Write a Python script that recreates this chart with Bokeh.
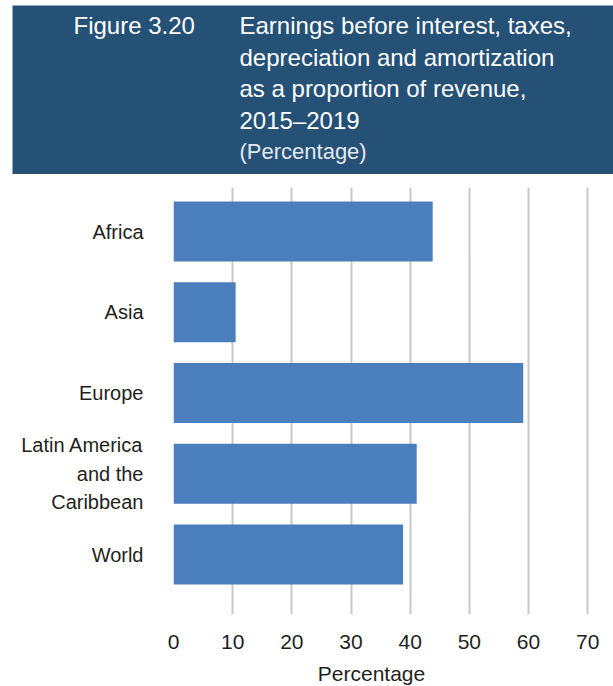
from bokeh.plotting import figure
from bokeh.models import Range1d, Label, BoxAnnotation, FixedTicker, ColumnDataSource
from bokeh.layouts import column
from bokeh.embed import file_html
from bokeh.resources import INLINE

# ---- data ----
categories = ["Africa", "Asia", "Europe", "Latin America\nand the\nCaribbean", "World"]
values = [43.8, 10.5, 59.1, 41.1, 38.8]
x_ticks = [0, 10, 20, 30, 40, 50, 60, 70]
fig_label = "Figure 3.20"
title_lines = ["Earnings before interest, taxes,",
               "depreciation and amortization",
               "as a proportion of revenue,",
               "2015\u20132019"]
subtitle = "(Percentage)"
x_label = "Percentage"

SANS = "Liberation Sans"
HEADER_BLUE = "#255177"
BAR_BLUE = "#4a7ebd"
GRID = "#c8c8c8"
TEXT = "#231f20"

W = 613


def blank(h):
    f = figure(width=W, height=h, x_range=Range1d(0, W), y_range=Range1d(0, h),
               output_backend="svg", toolbar_location=None, min_border=0, title=None,
               x_axis_location=None, y_axis_location=None)
    f.frame_align = False
    f.grid.visible = False
    f.outline_line_color = None
    return f


# ---- header (page y 0..174) ----
HH = 174
ROW1 = HH - 25
STEP = 31.5
header = blank(HH)
header.add_layout(BoxAnnotation(left=12, right=W, bottom=0, top=HH - 5,
                                fill_color=HEADER_BLUE, fill_alpha=1, line_color=None))
header.add_layout(Label(x=73, y=ROW1, text=fig_label, text_font=SANS, text_font_size="24px",
                        text_color="white", text_baseline="alphabetic"))
for i, line in enumerate(title_lines):
    header.add_layout(Label(x=239, y=ROW1 - STEP * i, text=line, text_font=SANS,
                            text_font_size="24px", text_color="white",
                            text_baseline="alphabetic"))
header.add_layout(Label(x=239, y=ROW1 - STEP * 4, text=subtitle, text_font=SANS,
                        text_font_size="22px", text_color="#e4e8ee",
                        text_baseline="alphabetic"))

# ---- chart (page y 174..660) ----
n = len(categories)
ys = [n - 1 - i for i in range(n)]
src = ColumnDataSource(dict(y=ys, v=values, cat=categories))

CH = 486
p = figure(width=W, height=CH, x_range=Range1d(0, 70.3), y_range=Range1d(-0.743, 4.545),
           output_backend="svg", toolbar_location=None, title=None,
           min_border_left=173, min_border_right=24, min_border_top=13, min_border_bottom=46)
p.frame_align = False
p.outline_line_color = None
p.hbar(y="y", right="v", left=0, height=0.743, source=src, fill_color=BAR_BLUE, line_color=None)

p.ygrid.visible = False
p.xgrid.ticker = FixedTicker(ticks=x_ticks)
p.xgrid.grid_line_color = GRID
p.xgrid.grid_line_width = 2

p.xaxis.ticker = FixedTicker(ticks=x_ticks)
p.xaxis.axis_line_color = None
p.xaxis.major_tick_line_color = None
p.xaxis.minor_tick_line_color = None
p.xaxis.major_tick_out = 0
p.xaxis.major_label_standoff = 20
p.xaxis.major_label_text_font = SANS
p.xaxis.major_label_text_font_size = "21px"
p.xaxis.major_label_text_color = TEXT

p.yaxis.ticker = FixedTicker(ticks=ys)
p.yaxis.major_label_overrides = {y: c for y, c in zip(ys, categories)}
p.yaxis.axis_line_color = None
p.yaxis.major_tick_line_color = None
p.yaxis.minor_tick_line_color = None
p.yaxis.major_tick_out = 0
p.yaxis.major_label_standoff = 30
p.yaxis.major_label_text_font = SANS
p.yaxis.major_label_text_font_size = "20px"
p.yaxis.major_label_text_color = TEXT
p.yaxis.major_label_text_line_height = 1.3

# ---- footer with axis title (page y 660..686) ----
FH = 26
footer = blank(FH)
footer.add_layout(Label(x=371, y=13, text=x_label, text_font=SANS, text_font_size="21px",
                        text_color=TEXT, text_align="center", text_baseline="alphabetic"))

layout = column(header, p, footer, spacing=0)
open("out.html", "w").write(file_html(layout, INLINE))
